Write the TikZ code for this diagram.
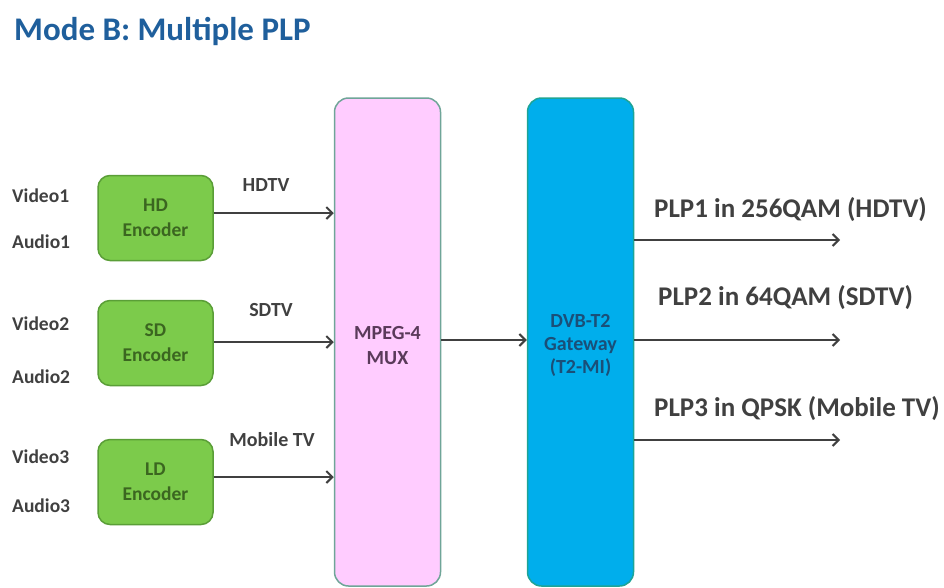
\documentclass[tikz,border=0pt]{standalone}
\usepackage{fontspec}
\setmainfont{Carlito}
\usetikzlibrary{arrows.meta}
\definecolor{titleblue}{HTML}{1F5F9C}
\definecolor{txtgray}{HTML}{404040}
\definecolor{encfill}{HTML}{7CCB4B}
\definecolor{encdraw}{HTML}{5A9E37}
\definecolor{enctext}{HTML}{3B6620}
\definecolor{muxfill}{HTML}{FFCCFF}
\definecolor{muxdraw}{HTML}{6FA598}
\definecolor{muxtext}{HTML}{5A3A5A}
\definecolor{gwfill}{HTML}{00AEEC}
\definecolor{gwdraw}{HTML}{1EA496}
\definecolor{gwtext}{HTML}{1A4F78}
\tikzset{
  x=1pt, y=-1pt,
  every node/.style={font=\bfseries, inner sep=0pt},
  encoder/.style={draw=encdraw, line width=1.5pt, fill=encfill, rounded corners=12pt,
    minimum width=115pt, minimum height=85pt, align=center, text=enctext, font=\bfseries\fontsize{19.5}{25}\selectfont},
  tallbox/.style={line width=1.5pt, rounded corners=14pt, minimum width=106pt, minimum height=488pt},
  srclabel/.style={text=txtgray, anchor=west, font=\bfseries\fontsize{19.5}{22}\selectfont},
  flowlabel/.style={text=txtgray, font=\bfseries\fontsize{20}{22}\selectfont},
  plplabel/.style={text=txtgray, anchor=west, font=\bfseries\fontsize{27}{30}\selectfont},
  flow/.style={draw=txtgray, line width=2pt, -{Straight Barb[length=6pt,width=12pt,line width=2pt]}},
}
\begin{document}
\begin{tikzpicture}
\useasboundingbox (0,0) rectangle (944,587);

% title
\node[anchor=west, text=titleblue, font=\bfseries\fontsize{33}{36}\selectfont] (title) at (14,31) {Mode B: Multiple PLP};

% sources
\node[srclabel] (v1) at (12,196) {Video1};
\node[srclabel] (a1) at (12,242) {Audio1};
\node[srclabel] (v2) at (12,324) {Video2};
\node[srclabel] (a2) at (12,377) {Audio2};
\node[srclabel] (v3) at (12,457) {Video3};
\node[srclabel] (a3) at (12,506) {Audio3};

% encoders
\node[encoder] (hd) at (155.5,218) {HD\\Encoder};
\node[encoder] (sd) at (155.5,343) {SD\\Encoder};
\node[encoder] (ld) at (155.5,482) {LD\\Encoder};

% multiplexer and gateway
\node[tallbox, draw=muxdraw, fill=muxfill] (mux) at (387.5,342) {};
\node[align=center, text=muxtext, font=\bfseries\fontsize{20}{25}\selectfont] (muxt) at (387.5,346) {MPEG-4\\MUX};
\node[tallbox, draw=gwdraw, fill=gwfill] (gw) at (580.5,342) {};
\node[align=center, text=gwtext, font=\bfseries\fontsize{20}{23}\selectfont] (gwt) at (580.5,345) {DVB-T2\\Gateway\\(T2-MI)};

% encoder outputs into the multiplexer
\coordinate (m1) at (mux.west |- 0,213);
\coordinate (m2) at (mux.west |- 0,342);
\coordinate (m3) at (mux.west |- 0,477);
\draw[flow] (hd.east |- m1) -- (m1);
\draw[flow] (sd.east |- m2) -- (m2);
\draw[flow] (ld.east |- m3) -- (m3);
\node[flowlabel] (l1) at (266,185) {HDTV};
\node[flowlabel] (l2) at (271,310) {SDTV};
\node[flowlabel] (l3) at (272,440) {Mobile TV};

% multiplexer to gateway
\coordinate (g0) at (gw.west |- 0,340);
\draw[flow] (mux.east |- g0) -- (g0);

% gateway outputs
\coordinate (o1) at (840,240);
\coordinate (o2) at (840,340);
\coordinate (o3) at (840,440);
\draw[flow] (gw.east |- o1) -- (o1);
\draw[flow] (gw.east |- o2) -- (o2);
\draw[flow] (gw.east |- o3) -- (o3);
\node[plplabel] (p1) at (654,210) {PLP1 in 256QAM (HDTV)};
\node[plplabel] (p2) at (658,298) {PLP2 in 64QAM (SDTV)};
\node[plplabel] (p3) at (654,409) {PLP3 in QPSK (Mobile TV)};
\end{tikzpicture}
\end{document}
